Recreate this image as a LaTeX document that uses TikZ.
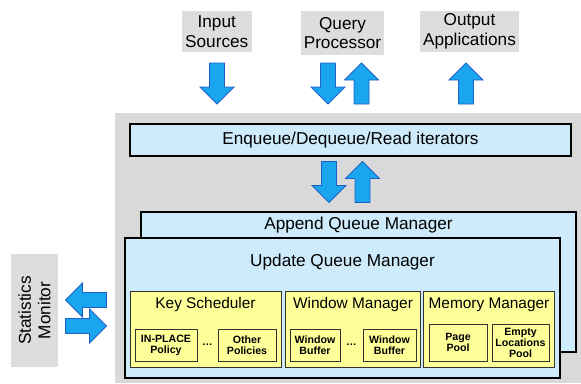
\documentclass[tikz,border=0pt]{standalone}
\usepackage{fontspec}
\setmainfont{Liberation Sans}
\usepackage{tikz}
\definecolor{bggrey}{HTML}{D9D9D9}
\definecolor{lblgrey}{HTML}{DDDDDD}
\definecolor{qblue}{HTML}{CDEBFA}
\definecolor{kyellow}{HTML}{FFFF99}
\definecolor{arrfill}{HTML}{1AA5EF}
\definecolor{arrline}{HTML}{1F5FC8}
\newcommand{\bigarrow}[3]{\draw[blockarrow,shift={(#1,#2)},rotate=#3] (-20.5,-7.5) -- (3.5,-7.5) -- (3.5,-17) -- (20.5,0) -- (3.5,17) -- (3.5,7.5) -- (-20.5,7.5) -- cycle;}

\begin{document}
\begin{tikzpicture}[x=1pt,y=-1pt,
	bigtext/.style={font=\fontsize{17.2}{19.5}\selectfont},
	midtext/.style={font=\fontsize{15.4}{18}\selectfont},
	smalltext/.style={font=\fontsize{10.6}{11}\selectfont\bfseries},
	lbl/.style={bigtext,fill=lblgrey,align=center,inner sep=0pt},
	qbox/.style={fill=qblue,draw=black,line width=1.4pt,inner sep=0pt},
	kbox/.style={fill=kyellow,draw=black!80,line width=0.9pt,inner sep=0pt},
	sbox/.style={kbox,smalltext,align=center},
	blockarrow/.style={fill=arrfill,draw=arrline,line width=0.8pt,line join=miter}]
	\useasboundingbox (0,0) rectangle (581,383);
	\fill[bggrey] (115,113) rectangle (581,383);
	\node[lbl,minimum width=70.5pt,minimum height=41pt] (input) at (216.75,31.5) {Input\\Sources};
	\node[lbl,minimum width=83pt,minimum height=44pt] (query) at (342.5,33) {Query\\Processor};
	\node[lbl,minimum width=99pt,minimum height=41pt] (output) at (469.5,31.5) {Output\\Applications};
	\bigarrow{217}{83.5}{-90}
	\bigarrow{328}{83.5}{-90}
	\bigarrow{361.5}{83.5}{90}
	\bigarrow{466}{83.5}{90}
	\node[qbox,bigtext,minimum width=441pt,minimum height=32pt] (iter) at (350.5,140) {Enqueue/Dequeue/Read iterators};
	\bigarrow{329}{182}{-90}
	\bigarrow{362.5}{182}{90}
	\node[qbox,minimum width=435pt,minimum height=140pt] (append) at (358.5,282) {};
	\node[bigtext] (appendtitle) at (358.5,225) {Append Queue Manager};
	\node[qbox,minimum width=435pt,minimum height=140pt] (update) at (342.5,308) {};
	\node[bigtext] (updatetitle) at (342.5,262) {Update Queue Manager};
	\node[kbox,minimum width=151pt,minimum height=76pt] (keysched) at (205.5,329) {};
	\node[midtext] (keytitle) at (205.5,305) {Key Scheduler};
	\node[kbox,minimum width=134.5pt,minimum height=76pt] (winmgr) at (353,329) {};
	\node[midtext] (wintitle) at (353,305) {Window Manager};
	\node[kbox,minimum width=130.5pt,minimum height=76pt] (memmgr) at (489,329) {};
	\node[midtext] (memtitle) at (489,305) {Memory Manager};
	\node[sbox,minimum width=62pt,minimum height=32pt] (inplace) at (166,345) {IN-PLACE\\Policy};
	\node[sbox,minimum width=58pt,minimum height=32pt] (other) at (247,345) {Other\\Policies};
	\node[smalltext] (keydots) at (207.5,345) {\dots};
	\node[sbox,minimum width=50pt,minimum height=32pt] (wbufa) at (315,345) {Window\\Buffer};
	\node[sbox,minimum width=53pt,minimum height=32pt] (wbufb) at (389.5,345) {Window\\Buffer};
	\node[smalltext] (windots) at (351.5,345) {\dots};
	\node[sbox,minimum width=58pt,minimum height=37pt] (page) at (458,342.5) {Page\\Pool};
	\node[sbox,minimum width=57pt,minimum height=37pt] (empty) at (520.5,342.5) {Empty\\Locations\\Pool};
	\node[lbl,rotate=90,minimum width=113pt,minimum height=47pt] (stats) at (34.5,310.5) {Statistics\\Monitor};
	\bigarrow{86}{300}{180}
	\bigarrow{86}{326}{0}
\end{tikzpicture}
\end{document}
